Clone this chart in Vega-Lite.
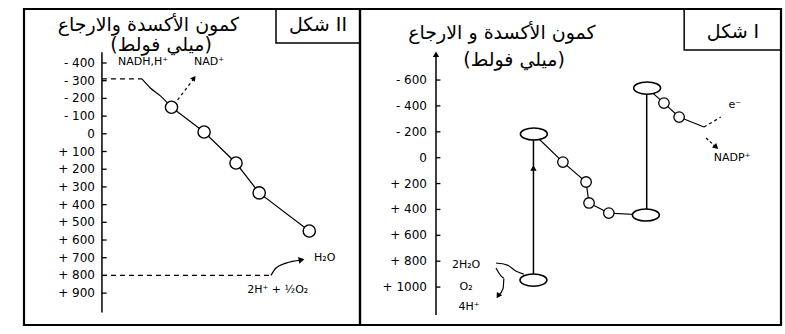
{
  "$schema": "https://vega.github.io/schema/vega-lite/v6.json",
  "bounds": "flush",
  "padding": {"left": 22, "top": 7, "right": 0, "bottom": 0},
  "spacing": 0,
  "background": "white",
  "config": {
    "view": {"stroke": "black", "strokeWidth": 2.2},
    "font": "DejaVu Sans",
    "text": {"font": "DejaVu Sans", "color": "black"}
  },
  "hconcat": [
    {
      "width": 336,
      "height": 316,
      "layer": [
        {
          "data": {"values": [{"pos": 23.2, "mv": -460, "mv2": 1010}]},
          "mark": {"type": "rule", "strokeWidth": 1.5, "color": "black"},
          "encoding": {
            "x": {"field": "pos", "type": "quantitative", "scale": {"domain": [0, 100], "nice": false, "zero": false}, "axis": null},
            "y": {"field": "mv", "type": "quantitative", "scale": {"domain": [-705, 1080], "reverse": true, "nice": false, "zero": false}, "axis": null},
            "y2": {"field": "mv2"}
          }
        },
        {
          "data": {"name": "leftTicks", "values": [
            {"mv": -400, "tick": "- 400"}, {"mv": -300, "tick": "- 300"}, {"mv": -200, "tick": "- 200"},
            {"mv": -100, "tick": "- 100"}, {"mv": 0, "tick": "0"}, {"mv": 100, "tick": "+ 100"},
            {"mv": 200, "tick": "+ 200"}, {"mv": 300, "tick": "+ 300"}, {"mv": 400, "tick": "+ 400"},
            {"mv": 500, "tick": "+ 500"}, {"mv": 600, "tick": "+ 600"}, {"mv": 700, "tick": "+ 700"},
            {"mv": 800, "tick": "+ 800"}, {"mv": 900, "tick": "+ 900"}
          ]},
          "layer": [
            {
              "mark": {"type": "rule", "strokeWidth": 1.3, "color": "black"},
              "encoding": {
                "x": {"datum": 23.2, "type": "quantitative"},
                "x2": {"datum": 24.6},
                "y": {"field": "mv", "type": "quantitative"}
              }
            },
            {
              "mark": {"type": "text", "fontSize": 12, "align": "right", "baseline": "middle", "dx": -7},
              "encoding": {
                "x": {"datum": 23.2, "type": "quantitative"},
                "y": {"field": "mv", "type": "quantitative"},
                "text": {"field": "tick"}
              }
            }
          ]
        },
        {
          "data": {"values": [
            {"pos": 23.2, "pos2": 35.1, "mv": -310},
            {"pos": 23.2, "pos2": 73.5, "mv": 800}
          ]},
          "mark": {"type": "rule", "strokeWidth": 1.2, "color": "black", "strokeDash": [5, 4]},
          "encoding": {
            "x": {"field": "pos", "type": "quantitative"},
            "x2": {"field": "pos2"},
            "y": {"field": "mv", "type": "quantitative"}
          }
        },
        {
          "data": {"values": [
            {"step": 1, "pos": 43.9, "mv": -150},
            {"step": 2, "pos": 53.6, "mv": -10},
            {"step": 3, "pos": 63.1, "mv": 165},
            {"step": 4, "pos": 70.0, "mv": 334},
            {"step": 5, "pos": 84.9, "mv": 549}
          ]},
          "mark": {"type": "line", "strokeWidth": 1.2, "color": "black"},
          "encoding": {
            "x": {"field": "pos", "type": "quantitative"},
            "y": {"field": "mv", "type": "quantitative"},
            "order": {"field": "step"}
          }
        },
        {
          "data": {"values": [
            {"step": 1, "pos": 35.1, "mv": -310},
            {"step": 2, "pos": 37.6, "mv": -259},
            {"step": 3, "pos": 40.6, "mv": -214},
            {"step": 4, "pos": 43.9, "mv": -150}
          ]},
          "mark": {"type": "line", "strokeWidth": 1.2, "color": "black", "interpolate": "monotone"},
          "encoding": {
            "x": {"field": "pos", "type": "quantitative"},
            "y": {"field": "mv", "type": "quantitative"},
            "order": {"field": "step"}
          }
        },
        {
          "data": {"values": [
            {"step": 1, "pos": 45.7, "mv": -191},
            {"step": 2, "pos": 50.3, "mv": -305}
          ]},
          "mark": {"type": "line", "strokeWidth": 1.2, "color": "black", "strokeDash": [3, 3]},
          "encoding": {
            "x": {"field": "pos", "type": "quantitative"},
            "y": {"field": "mv", "type": "quantitative"},
            "order": {"field": "step"}
          }
        },
        {
          "data": {"values": [{"pos": 50.6, "mv": -315}]},
          "mark": {"type": "point", "shape": "triangle-up", "angle": 37, "filled": true, "color": "black", "size": 35, "opacity": 1},
          "encoding": {
            "x": {"field": "pos", "type": "quantitative"},
            "y": {"field": "mv", "type": "quantitative"}
          }
        },
        {
          "data": {"values": [
            {"step": 1, "pos": 73.5, "mv": 800},
            {"step": 2, "pos": 75.0, "mv": 758},
            {"step": 3, "pos": 78.0, "mv": 730},
            {"step": 4, "pos": 82.4, "mv": 713}
          ]},
          "mark": {"type": "line", "strokeWidth": 1.3, "color": "black", "interpolate": "monotone"},
          "encoding": {
            "x": {"field": "pos", "type": "quantitative"},
            "y": {"field": "mv", "type": "quantitative"},
            "order": {"field": "step"}
          }
        },
        {
          "data": {"values": [{"pos": 82.6, "mv": 712}]},
          "mark": {"type": "point", "shape": "triangle-up", "angle": 79, "filled": true, "color": "black", "size": 45, "opacity": 1},
          "encoding": {
            "x": {"field": "pos", "type": "quantitative"},
            "y": {"field": "mv", "type": "quantitative"}
          }
        },
        {
          "data": {"values": [
            {"pos": 43.9, "mv": -150},
            {"pos": 53.6, "mv": -10},
            {"pos": 63.1, "mv": 165},
            {"pos": 70.0, "mv": 334},
            {"pos": 84.9, "mv": 549}
          ]},
          "mark": {"type": "point", "shape": "circle", "filled": true, "fill": "white", "stroke": "black", "strokeWidth": 1.4, "size": 150, "opacity": 1},
          "encoding": {
            "x": {"field": "pos", "type": "quantitative"},
            "y": {"field": "mv", "type": "quantitative"}
          }
        },
        {
          "data": {"values": [{"pos": 75, "pos2": 100, "mv": -705, "mv2": -513}]},
          "mark": {"type": "rect", "fill": "white", "fillOpacity": 0, "stroke": "black", "strokeWidth": 1.5},
          "encoding": {
            "x": {"field": "pos", "type": "quantitative"},
            "x2": {"field": "pos2"},
            "y": {"field": "mv", "type": "quantitative"},
            "y2": {"field": "mv2"}
          }
        },
        {
          "data": {"values": [
            {"pos": 37.0, "mv": -615, "label": "كمون الأكسدة والارجاع"},
            {"pos": 40.8, "mv": -502, "label": "(ميلي فولط)"},
            {"pos": 87.5, "mv": -615, "label": "شكل II"}
          ]},
          "mark": {"type": "text", "fontSize": 19, "align": "center", "baseline": "middle"},
          "encoding": {
            "x": {"field": "pos", "type": "quantitative"},
            "y": {"field": "mv", "type": "quantitative"},
            "text": {"field": "label"}
          }
        },
        {
          "data": {"values": [
            {"pos": 35.4, "mv": -405, "label": "NADH,H⁺"},
            {"pos": 55.1, "mv": -405, "label": "NAD⁺"},
            {"pos": 89.5, "mv": 702, "label": "H₂O"},
            {"pos": 75.5, "mv": 885, "label": "2H⁺ + ½O₂"}
          ]},
          "mark": {"type": "text", "fontSize": 11, "align": "center", "baseline": "middle"},
          "encoding": {
            "x": {"field": "pos", "type": "quantitative"},
            "y": {"field": "mv", "type": "quantitative"},
            "text": {"field": "label"}
          }
        }
      ]
    },
    {
      "width": 421,
      "height": 316,
      "layer": [
        {
          "data": {"values": [
            {"pos": 18.05, "mv": -793, "mv2": 1216},
            {"pos": 41.2, "mv": 946, "mv2": -183},
            {"pos": 68.1, "mv": 443, "mv2": -538}
          ]},
          "mark": {"type": "rule", "strokeWidth": 1.5, "color": "black"},
          "encoding": {
            "x": {"field": "pos", "type": "quantitative", "scale": {"domain": [0, 100], "nice": false, "zero": false}, "axis": null},
            "y": {"field": "mv", "type": "quantitative", "scale": {"domain": [-1149, 1293], "reverse": true, "nice": false, "zero": false}, "axis": null},
            "y2": {"field": "mv2"}
          }
        },
        {
          "data": {"name": "rightTicks", "values": [
            {"mv": -600, "tick": "- 600"}, {"mv": -400, "tick": "- 400"}, {"mv": -200, "tick": "- 200"},
            {"mv": 0, "tick": "0"}, {"mv": 200, "tick": "+ 200"}, {"mv": 400, "tick": "+ 400"},
            {"mv": 600, "tick": "+ 600"}, {"mv": 800, "tick": "+ 800"}, {"mv": 1000, "tick": "+ 1000"}
          ]},
          "layer": [
            {
              "mark": {"type": "rule", "strokeWidth": 1.3, "color": "black"},
              "encoding": {
                "x": {"datum": 18.05, "type": "quantitative"},
                "x2": {"datum": 19.1},
                "y": {"field": "mv", "type": "quantitative"}
              }
            },
            {
              "mark": {"type": "text", "fontSize": 12, "align": "right", "baseline": "middle", "dx": -9},
              "encoding": {
                "x": {"datum": 18.05, "type": "quantitative"},
                "y": {"field": "mv", "type": "quantitative"},
                "text": {"field": "tick"}
              }
            }
          ]
        },
        {
          "data": {"values": [
            {"pos": 18.05, "mv": -800},
            {"pos": 41.2, "mv": 80}
          ]},
          "mark": {"type": "point", "shape": "triangle-up", "filled": true, "color": "black", "size": 40, "opacity": 1},
          "encoding": {
            "x": {"field": "pos", "type": "quantitative"},
            "y": {"field": "mv", "type": "quantitative"}
          }
        },
        {
          "data": {"values": [
            {"step": 1, "pos": 41.3, "mv": -183},
            {"step": 2, "pos": 48.2, "mv": 34},
            {"step": 3, "pos": 53.7, "mv": 188},
            {"step": 4, "pos": 54.4, "mv": 350},
            {"step": 5, "pos": 59.1, "mv": 428},
            {"step": 6, "pos": 67.9, "mv": 443}
          ]},
          "mark": {"type": "line", "strokeWidth": 1.2, "color": "black"},
          "encoding": {
            "x": {"field": "pos", "type": "quantitative"},
            "y": {"field": "mv", "type": "quantitative"},
            "order": {"field": "step"}
          }
        },
        {
          "data": {"values": [
            {"step": 1, "pos": 68.2, "mv": -538},
            {"step": 2, "pos": 72.2, "mv": -422},
            {"step": 3, "pos": 75.8, "mv": -314},
            {"step": 4, "pos": 81.7, "mv": -237}
          ]},
          "mark": {"type": "line", "strokeWidth": 1.2, "color": "black"},
          "encoding": {
            "x": {"field": "pos", "type": "quantitative"},
            "y": {"field": "mv", "type": "quantitative"},
            "order": {"field": "step"}
          }
        },
        {
          "data": {"values": [
            {"step": 1, "pos": 81.7, "mv": -237},
            {"step": 2, "pos": 85.7, "mv": -314}
          ]},
          "mark": {"type": "line", "strokeWidth": 1.2, "color": "black", "strokeDash": [3, 3]},
          "encoding": {
            "x": {"field": "pos", "type": "quantitative"},
            "y": {"field": "mv", "type": "quantitative"},
            "order": {"field": "step"}
          }
        },
        {
          "data": {"values": [
            {"step": 1, "pos": 82.2, "mv": -152},
            {"step": 2, "pos": 84.3, "mv": -90}
          ]},
          "mark": {"type": "line", "strokeWidth": 1.2, "color": "black", "strokeDash": [3, 2]},
          "encoding": {
            "x": {"field": "pos", "type": "quantitative"},
            "y": {"field": "mv", "type": "quantitative"},
            "order": {"field": "step"}
          }
        },
        {
          "data": {"values": [{"pos": 84.6, "mv": -82}]},
          "mark": {"type": "point", "shape": "triangle-up", "angle": 132, "filled": true, "color": "black", "size": 40, "opacity": 1},
          "encoding": {
            "x": {"field": "pos", "type": "quantitative"},
            "y": {"field": "mv", "type": "quantitative"}
          }
        },
        {
          "data": {"values": [
            {"step": 1, "pos": 32.3, "mv": 814},
            {"step": 2, "pos": 35.0, "mv": 830},
            {"step": 3, "pos": 37.0, "mv": 875},
            {"step": 4, "pos": 38.9, "mv": 900}
          ]},
          "mark": {"type": "line", "strokeWidth": 1.2, "color": "black", "interpolate": "monotone"},
          "encoding": {
            "x": {"field": "pos", "type": "quantitative"},
            "y": {"field": "mv", "type": "quantitative"},
            "order": {"field": "step"}
          }
        },
        {
          "data": {"values": [
            {"step": 1, "pos": 32.3, "mv": 853},
            {"step": 2, "pos": 34.2, "mv": 930},
            {"step": 3, "pos": 34.0, "mv": 1010},
            {"step": 4, "pos": 33.0, "mv": 1061}
          ]},
          "mark": {"type": "line", "strokeWidth": 1.2, "color": "black", "interpolate": "monotone"},
          "encoding": {
            "x": {"field": "pos", "type": "quantitative"},
            "y": {"field": "mv", "type": "quantitative"},
            "order": {"field": "step"}
          }
        },
        {
          "data": {"values": [{"pos": 32.8, "mv": 1068}]},
          "mark": {"type": "point", "shape": "triangle-up", "angle": 212, "filled": true, "color": "black", "size": 40, "opacity": 1},
          "encoding": {
            "x": {"field": "pos", "type": "quantitative"},
            "y": {"field": "mv", "type": "quantitative"}
          }
        },
        {
          "data": {"values": [
            {"pos": 48.2, "mv": 34},
            {"pos": 53.7, "mv": 188},
            {"pos": 54.4, "mv": 350},
            {"pos": 59.1, "mv": 428},
            {"pos": 72.2, "mv": -422},
            {"pos": 75.8, "mv": -314}
          ]},
          "mark": {"type": "point", "shape": "circle", "filled": true, "fill": "white", "stroke": "black", "strokeWidth": 1.3, "size": 110, "opacity": 1},
          "encoding": {
            "x": {"field": "pos", "type": "quantitative"},
            "y": {"field": "mv", "type": "quantitative"}
          }
        },
        {
          "data": {"values": [
            {"pos": 41.2, "mv": 946},
            {"pos": 41.3, "mv": -183},
            {"pos": 67.9, "mv": 443},
            {"pos": 68.2, "mv": -538}
          ]},
          "mark": {"type": "point", "shape": "M-1,0A1,0.45,0,1,1,1,0A1,0.45,0,1,1,-1,0Z", "filled": true, "fill": "white", "stroke": "black", "strokeWidth": 1.5, "size": 729, "opacity": 1},
          "encoding": {
            "x": {"field": "pos", "type": "quantitative"},
            "y": {"field": "mv", "type": "quantitative"}
          }
        },
        {
          "data": {"values": [{"pos": 77, "pos2": 100, "mv": -1149, "mv2": -832}]},
          "mark": {"type": "rect", "fill": "white", "fillOpacity": 0, "stroke": "black", "strokeWidth": 1.5},
          "encoding": {
            "x": {"field": "pos", "type": "quantitative"},
            "x2": {"field": "pos2"},
            "y": {"field": "mv", "type": "quantitative"},
            "y2": {"field": "mv2"}
          }
        },
        {
          "data": {"values": [
            {"pos": 33.7, "mv": -963, "label": "كمون الأكسدة و الارجاع"},
            {"pos": 36.6, "mv": -755, "label": "(ميلي فولط)"},
            {"pos": 88.6, "mv": -971, "label": "شكل I"}
          ]},
          "mark": {"type": "text", "fontSize": 19, "align": "center", "baseline": "middle"},
          "encoding": {
            "x": {"field": "pos", "type": "quantitative"},
            "y": {"field": "mv", "type": "quantitative"},
            "text": {"field": "label"}
          }
        },
        {
          "data": {"values": [
            {"pos": 25.2, "mv": 830, "label": "2H₂O"},
            {"pos": 25.2, "mv": 1000, "label": "O₂"},
            {"pos": 25.9, "mv": 1154, "label": "4H⁺"},
            {"pos": 88.4, "mv": 3, "label": "NADP⁺"},
            {"pos": 89.0, "mv": -407, "label": "e⁻"}
          ]},
          "mark": {"type": "text", "fontSize": 11, "align": "center", "baseline": "middle"},
          "encoding": {
            "x": {"field": "pos", "type": "quantitative"},
            "y": {"field": "mv", "type": "quantitative"},
            "text": {"field": "label"}
          }
        }
      ]
    }
  ]
}
